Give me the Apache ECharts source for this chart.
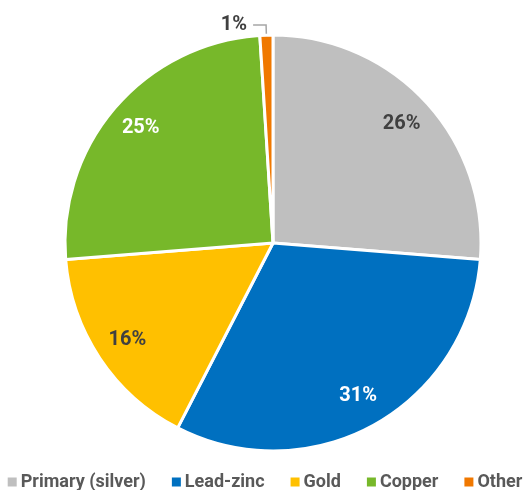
<!DOCTYPE html>
<html>
<head>
<meta charset="utf-8">
<script src="https://cdn.jsdelivr.net/npm/echarts@6/dist/echarts.min.js"></script>
<style>
  html, body { margin: 0; padding: 0; background: #fff; }
  #chart { width: 528px; height: 490px; }
</style>
</head>
<body>
<div id="chart"></div>
<script>
// Silver supply by source, share of total (%)
const categories = ['Primary (silver)', 'Lead-zinc', 'Gold', 'Copper', 'Other'];
const shares = [26, 31, 16, 25, 1];
const colors = ['#bfbfbf', '#0070c0', '#ffc000', '#77b82a', '#f07800'];
const labelColors = ['#404040', '#ffffff', '#404040', '#ffffff', '#404040'];

const fontFamily = 'Roboto, "Open Sans", sans-serif';
const center = [273, 243];
const outerR = 208;

// Slices themselves (no labels)
const sliceData = categories.map((name, i) => ({
  name: name,
  value: shares[i],
  itemStyle: { color: colors[i] }
}));

// Same values on a transparent ring, used only to place the percentage labels
// further out than the default half-radius.
const labelData = categories.map((name, i) => {
  const item = {
    name: name,
    value: shares[i],
    label: { color: labelColors[i] }
  };
  if (i === categories.length - 1) {
    item.label = {
      position: 'outside',
      color: '#404040',
      distanceToLabelLine: 6
    };
    item.labelLine = {
      show: true,
      length: 10,
      length2: 13,
      lineStyle: { color: '#a6a6a6', width: 1.5 }
    };
  }
  return item;
});

const chart = echarts.init(document.getElementById('chart'), null, { renderer: 'canvas' });
chart.setOption({
  animation: false,
  color: colors,
  legend: {
    top: 468,
    left: 'center',
    itemWidth: 11,
    itemHeight: 11,
    itemGap: 24,
    icon: 'rect',
    textStyle: {
      fontFamily: fontFamily,
      fontWeight: 'bold',
      fontSize: 18,
      color: '#595959',
      padding: [0, 0, 0, -2]
    },
    data: categories
  },
  series: [{
    type: 'pie',
    center: center,
    radius: [0, outerR],
    startAngle: 90,
    clockwise: true,
    itemStyle: { borderColor: '#ffffff', borderWidth: 3 },
    label: { show: false },
    labelLine: { show: false },
    data: sliceData
  }, {
    type: 'pie',
    center: center,
    radius: [136, outerR],
    startAngle: 90,
    clockwise: true,
    silent: true,
    legendHoverLink: false,
    avoidLabelOverlap: false,
    itemStyle: { color: 'rgba(0,0,0,0)', borderWidth: 0 },
    label: {
      show: true,
      position: 'inside',
      formatter: p => p.value + '%',
      fontFamily: fontFamily,
      fontWeight: 'bold',
      fontSize: 20
    },
    labelLine: { show: false },
    data: labelData
  }]
});
</script>
</body>
</html>
